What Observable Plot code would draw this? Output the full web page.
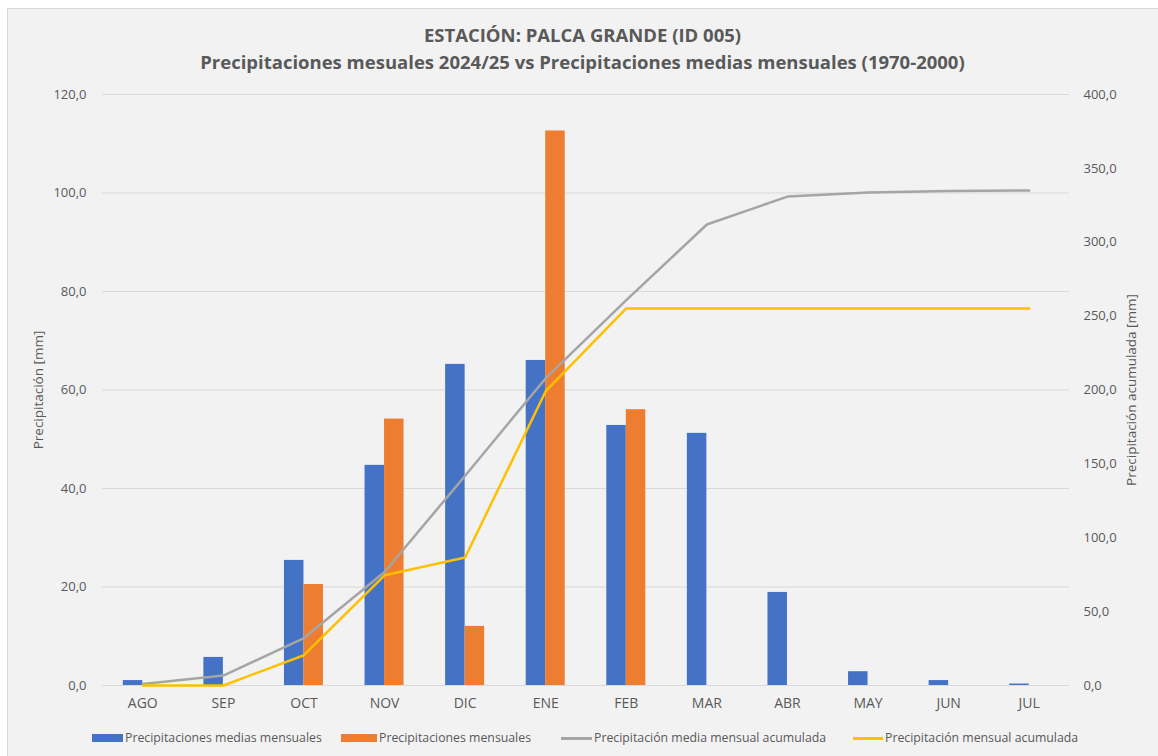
<!DOCTYPE html>
<html>
<head>
<meta charset="utf-8">
<script src="https://cdn.jsdelivr.net/npm/d3@7"></script>
<script src="https://cdn.jsdelivr.net/npm/@observablehq/plot@0.6"></script>
<style>
  body { margin: 0; background: #ffffff; font-family: "Open Sans", sans-serif; color: #595959; width: 1158px; height: 756px; overflow: hidden; position: relative; }
  #frame { position: absolute; left: 7px; top: 8px; width: 1170px; height: 770px; background: #f2f2f2; border: 1px solid #d9d9d9; }
  #title { position: absolute; left: 7px; width: 1151px; top: 21px; text-align: center; font-weight: 700; font-size: 18.5px; line-height: 27px; color: #595959; }
  #chart { position: absolute; left: 0; top: 80px; }
  .leg { position: absolute; top: 730px; height: 16px; line-height: 16px; font-size: 12.3px; color: #595959; white-space: nowrap; }
  .sw { position: absolute; }
</style>
</head>
<body>
<div id="frame"></div>
<div id="title">ESTACIÓN: PALCA GRANDE (ID 005)<br>Precipitaciones mesuales 2024/25 vs Precipitaciones medias mensuales (1970-2000)</div>
<div id="chart"></div>
<div id="legend"></div>
<script>
// ---- Data ----
const months = ["AGO","SEP","OCT","NOV","DIC","ENE","FEB","MAR","ABR","MAY","JUN","JUL"];
const meanMonthly = [1.0, 5.7, 25.4, 44.7, 65.2, 66.0, 52.8, 51.2, 18.9, 2.8, 1.0, 0.3];
const monthly2425 = [0.0, 0.0, 20.5, 54.1, 12.0, 112.6, 56.0, null, null, null, null, null];
const cumMean = [1.0, 6.7, 32.1, 76.8, 142.0, 208.0, 260.8, 312.0, 330.9, 333.7, 334.7, 335.0];
const cum2425 = [0.0, 0.0, 20.5, 74.6, 86.6, 199.2, 255.2, 255.2, 255.2, 255.2, 255.2, 255.2];
const leftTicks = [0, 20, 40, 60, 80, 100, 120];
const rightTicks = [0, 50, 100, 150, 200, 250, 300, 350, 400];
const seriesNames = ["Precipitaciones medias mensuales", "Precipitaciones mensuales", "Precipitación media mensual acumulada", "Precipitación mensual acumulada"];
const colors = ["#4472C4", "#ED7D31", "#A5A5A5", "#FFC000"];

const rows = months.map((m, i) => ({month: m, mean: meanMonthly[i], actual: monthly2425[i], cumMean: cumMean[i], cumActual: cum2425[i]}));
const k = 120 / 400; // right axis (0-400) mapped onto left axis (0-120)
const fmt = v => v.toFixed(1).replace(".", ",");

const W = 1158, H = 640;
const mL = 102, mR = 89, mT = 14, mB = 35;
const band = (W - mL - mR) / months.length;
const half = band / 2;
const barW = 19.5;

const chart = Plot.plot({
  width: W, height: H,
  marginLeft: mL, marginRight: mR, marginTop: mT, marginBottom: mB,
  style: {background: "transparent", fontFamily: "Open Sans, sans-serif", fontSize: "13px", color: "#595959"},
  x: {domain: months, type: "band", padding: 0, round: false, label: null},
  y: {domain: [0, 120], label: null},
  marks: [
    Plot.gridY(leftTicks, {stroke: "#d9d9d9", strokeOpacity: 1, strokeWidth: 1}),
    Plot.barY(rows, {x: "month", y: "mean", fill: colors[0], insetLeft: half - barW, insetRight: half}),
    Plot.barY(rows.filter(d => d.actual != null), {x: "month", y: "actual", fill: colors[1], insetLeft: half, insetRight: half - barW}),
    Plot.line(rows, {x: "month", y: d => d.cumMean * k, stroke: colors[2], strokeWidth: 2.5}),
    Plot.line(rows, {x: "month", y: d => d.cumActual * k, stroke: colors[3], strokeWidth: 2.5}),
    Plot.axisY(leftTicks, {anchor: "left", tickSize: 0, tickPadding: 16, tickFormat: fmt, label: null, fontSize: 13, fill: "#595959"}),
    Plot.axisY(rightTicks.map(v => v * k), {anchor: "right", tickSize: 0, tickPadding: 14, tickFormat: d => fmt(Math.round(d / k * 10) / 10), label: null, fontSize: 13, fill: "#595959"}),
    Plot.axisX({anchor: "bottom", tickSize: 0, tickPadding: 13, label: null, fontSize: 14, fill: "#595959"}),
    Plot.text(["Precipitación [mm]"], {frameAnchor: "left", textAnchor: "middle", dx: -64, rotate: -90, fontSize: 13.5, fill: "#595959"}),
    Plot.text(["Precipitación acumulada [mm]"], {frameAnchor: "right", textAnchor: "middle", dx: 62, rotate: -90, fontSize: 13.5, fill: "#595959"})
  ]
});
document.getElementById("chart").appendChild(chart);

// ---- Legend ----
const legend = document.getElementById("legend");
const legPos = [
  {sx: 92, sw: 31, sh: 8, tx: 125},
  {sx: 341, sw: 36, sh: 8, tx: 379},
  {sx: 561, sw: 31, sh: 3, tx: 594},
  {sx: 853, sw: 30, sh: 3, tx: 885}
];
seriesNames.forEach((name, i) => {
  const p = legPos[i];
  const s = document.createElement("div");
  s.className = "sw";
  s.style.left = p.sx + "px";
  s.style.top = (738 - p.sh / 2) + "px";
  s.style.width = p.sw + "px";
  s.style.height = p.sh + "px";
  s.style.background = colors[i];
  legend.appendChild(s);
  const t = document.createElement("div");
  t.className = "leg";
  t.style.left = p.tx + "px";
  t.textContent = name;
  legend.appendChild(t);
});
</script>
</body>
</html>
